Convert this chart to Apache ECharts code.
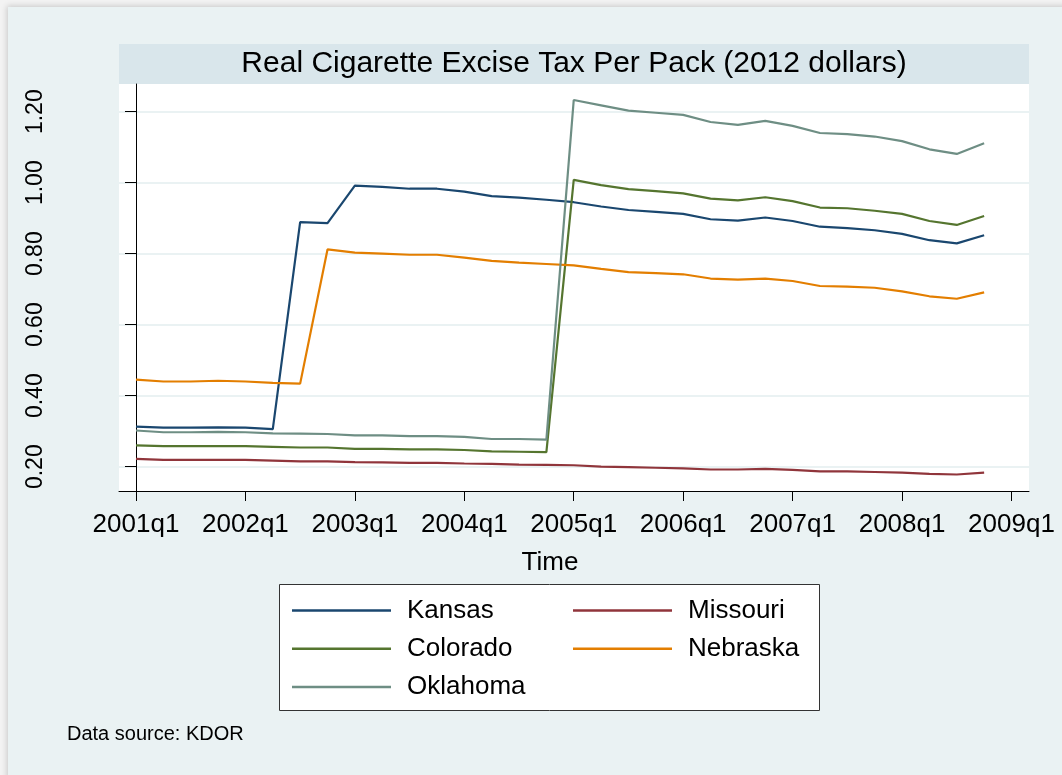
<!DOCTYPE html>
<html lang="en">

<head>
  <meta charset="UTF-8">
  <title>Real Cigarette Excise Tax Per Pack</title>
  <script src="https://cdn.jsdelivr.net/npm/echarts@6/dist/echarts.min.js"></script>
  <style>
    body { margin: 0; background: #f3f3f3; }
    #panel { position: absolute; left: 8px; top: 7px; width: 1060px; height: 775px; background: #eaf2f3; box-shadow: -1px -1px 6px rgba(0, 0, 0, 0.18); }
    #main { position: absolute; left: 0; top: 0; width: 1062px; height: 775px; }
  </style>
</head>

<body>
  <div id="panel"></div>
  <div id="main"></div>

  <script>
    // quarters 2001q1 .. 2008q4 (index 0..31)
    var tickIdx = [0, 4, 8, 12, 16, 20, 24, 28, 32]
    var tickLabels = ['2001q1', '2002q1', '2003q1', '2004q1', '2005q1', '2006q1', '2007q1', '2008q1', '2009q1']
    var yTicks = [0.2, 0.4, 0.6, 0.8, 1.0, 1.2]

    var kansas = [0.313, 0.310, 0.310, 0.311, 0.310, 0.306, 0.889, 0.886,
      0.992, 0.988, 0.983, 0.983, 0.975, 0.962, 0.958, 0.952,
      0.945, 0.933, 0.923, 0.918, 0.912, 0.897, 0.893, 0.902,
      0.892, 0.876, 0.872, 0.866, 0.856, 0.838, 0.829, 0.852]
    var missouri = [0.222, 0.219, 0.219, 0.219, 0.219, 0.217, 0.215, 0.215,
      0.213, 0.212, 0.211, 0.211, 0.209, 0.208, 0.206, 0.205,
      0.204, 0.200, 0.199, 0.197, 0.195, 0.192, 0.192, 0.194,
      0.191, 0.187, 0.187, 0.185, 0.183, 0.180, 0.178, 0.183]
    var colorado = [0.260, 0.258, 0.258, 0.258, 0.258, 0.256, 0.254, 0.254,
      0.250, 0.250, 0.249, 0.249, 0.247, 0.243, 0.242, 0.241,
      1.008, 0.993, 0.982, 0.976, 0.970, 0.955, 0.950, 0.959,
      0.948, 0.930, 0.928, 0.921, 0.912, 0.892, 0.881, 0.906]
    var nebraska = [0.445, 0.440, 0.440, 0.442, 0.440, 0.436, 0.434, 0.812,
      0.803, 0.800, 0.797, 0.797, 0.789, 0.780, 0.775, 0.771,
      0.767, 0.757, 0.748, 0.745, 0.742, 0.730, 0.727, 0.730,
      0.723, 0.709, 0.707, 0.704, 0.694, 0.680, 0.673, 0.691]
    var oklahoma = [0.302, 0.297, 0.297, 0.298, 0.297, 0.294, 0.293, 0.292,
      0.288, 0.288, 0.286, 0.286, 0.284, 0.278, 0.278, 0.276,
      1.233, 1.218, 1.203, 1.197, 1.191, 1.171, 1.163, 1.174,
      1.160, 1.140, 1.137, 1.130, 1.117, 1.094, 1.081, 1.111]

    var states = ['Kansas', 'Missouri', 'Colorado', 'Nebraska', 'Oklahoma']
    var values = [kansas, missouri, colorado, nebraska, oklahoma]
    var colors = ['#1a476f', '#90353b', '#55752f', '#e37e00', '#6e8e84']

    var font = 'Liberation Sans, Arial, sans-serif'

    function toPairs(arr) {
      return arr.map(function (v, i) { return [i, v] })
    }

    var mCharts = echarts.init(document.getElementById('main'), null, { renderer: 'canvas' })

    var option = {
      animation: false,
      color: colors,
      textStyle: { fontFamily: font, color: '#000' },
      title: [
        {
          text: 'Real Cigarette Excise Tax Per Pack (2012 dollars)',
          left: 574, top: 49, textAlign: 'center', padding: 0,
          textStyle: { fontSize: 30, fontWeight: 'normal', color: '#000', fontFamily: font, lineHeight: 30 }
        },
        {
          text: 'Data source: KDOR',
          left: 67, top: 724, padding: 0,
          textStyle: { fontSize: 20, fontWeight: 'normal', color: '#000', fontFamily: font, lineHeight: 20 }
        }
      ],
      graphic: [
        { type: 'rect', z: -1, shape: { x: 119, y: 44, width: 910, height: 40 }, style: { fill: '#d9e6eb' } },
        { type: 'rect', z: -1, shape: { x: 279.5, y: 584.5, width: 540, height: 126 }, style: { fill: '#fff', stroke: '#333', lineWidth: 1 } }
      ],
      legend: [
        {
          data: ['Kansas', 'Colorado', 'Oklahoma'],
          orient: 'vertical', left: 292, top: 597.5, padding: 0,
          icon: 'rect', itemWidth: 99, itemHeight: 2.5, itemGap: 12.3,
          textStyle: { fontSize: 26, fontFamily: font, color: '#000', lineHeight: 26, padding: [0, 0, 0, 11] }
        },
        {
          data: ['Missouri', 'Nebraska'],
          orient: 'vertical', left: 573, top: 597.5, padding: 0,
          icon: 'rect', itemWidth: 99, itemHeight: 2.5, itemGap: 12.3,
          textStyle: { fontSize: 26, fontFamily: font, color: '#000', lineHeight: 26, padding: [0, 0, 0, 11] }
        }
      ],
      grid: {
        left: 119, right: 33, top: 84, bottom: 284,
        show: true, backgroundColor: '#fff', borderWidth: 0
      },
      xAxis: {
        type: 'value',
        min: -0.621, max: 32.64,
        name: 'Time', nameLocation: 'middle', nameGap: 59,
        nameTextStyle: { fontSize: 26, fontFamily: font, color: '#000', padding: [0, 48, 0, 0] },
        axisLine: { lineStyle: { color: '#000', width: 1 } },
        axisTick: { customValues: tickIdx, length: 10, lineStyle: { color: '#000' } },
        axisLabel: {
          customValues: tickIdx, margin: 21, fontSize: 26, color: '#000', fontFamily: font,
          formatter: function (v) { return tickLabels[tickIdx.indexOf(Math.round(v))] }
        },
        splitLine: { show: false }
      },
      yAxis: {
        type: 'value',
        min: 0.1315, max: 1.278,
        axisLine: { show: true, lineStyle: { color: '#000', width: 1 } },
        axisTick: { show: true, customValues: yTicks, length: 11, lineStyle: { color: '#000' } },
        axisLabel: {
          customValues: yTicks, rotate: 90, margin: 72, fontSize: 23, color: '#000', fontFamily: font,
          formatter: function (v) { return v.toFixed(2) }
        },
        splitLine: { show: true, lineStyle: { color: '#eaf2f3', width: 2 } }
      },
      series: states.map(function (name, k) {
        return {
          name: name,
          type: 'line',
          data: toPairs(values[k]),
          showSymbol: false,
          lineStyle: { width: 2.2, color: colors[k] },
          itemStyle: { color: colors[k] }
        }
      })
    }
    mCharts.setOption(option)
  </script>
</body>

</html>
